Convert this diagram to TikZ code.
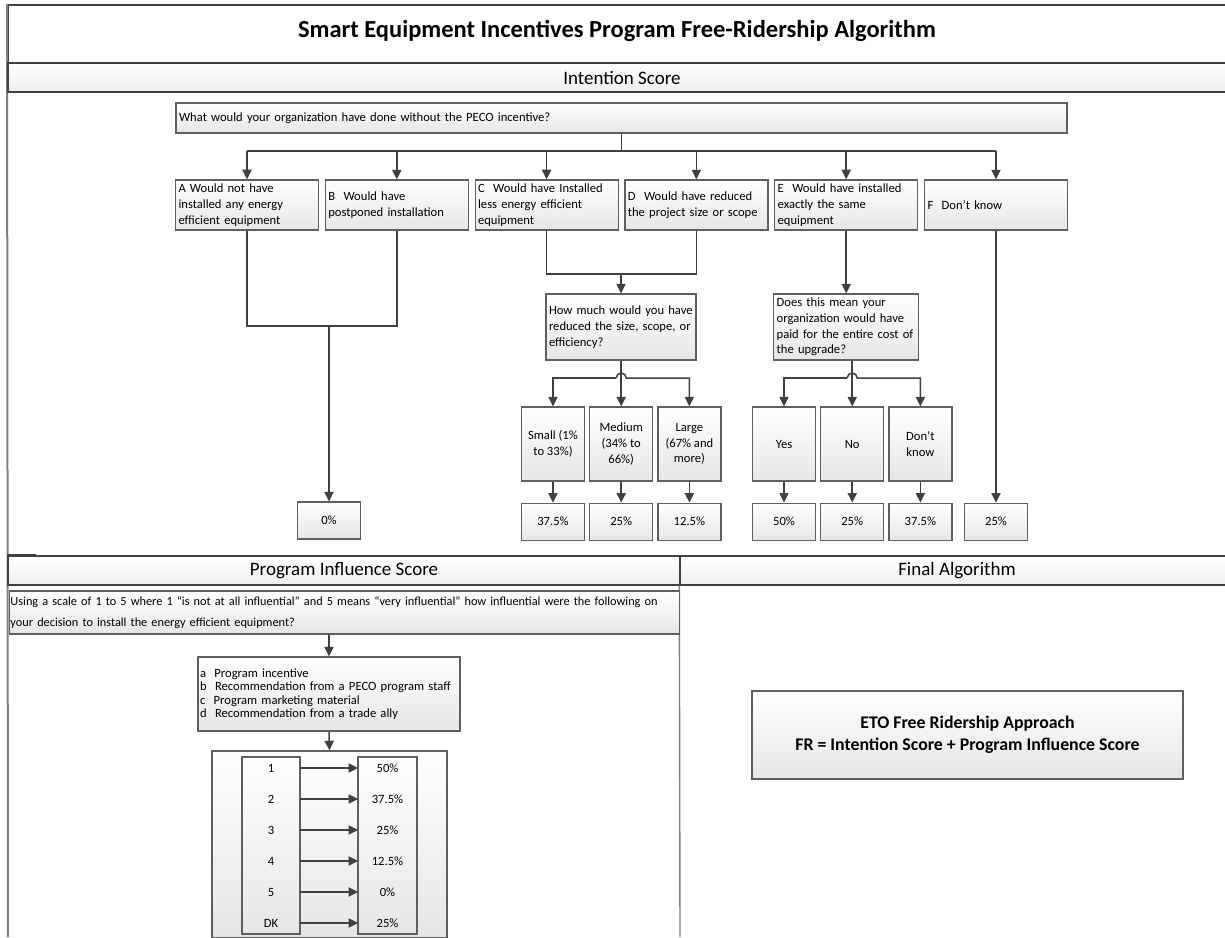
\documentclass[tikz,border=0pt]{standalone}
\usepackage{fontspec}
\setmainfont{Carlito}
\usetikzlibrary{arrows.meta,positioning}
\definecolor{linegray}{HTML}{404040}
\definecolor{edgegray}{HTML}{5F5F5F}
\definecolor{shadegray}{HTML}{E6E6E6}

\begin{document}
\begin{tikzpicture}[
x=0.5pt,y=-0.5pt,
box/.style={draw=edgegray,line width=0.6pt,top color=white,bottom color=shadegray,inner sep=2pt,font=\fontsize{6.3}{7.85}\selectfont},
answer/.style={box,align=left,inner xsep=1.5pt,text width=68.5pt,minimum height=25pt},
question/.style={box,align=left,inner xsep=1.5pt},
pick/.style={box,align=center,minimum width=31.5pt,minimum height=37pt},
pct/.style={box,align=center,minimum width=31.5pt,minimum height=18.5pt},
band/.style={draw=linegray,line width=0.7pt,top color=white,bottom color=shadegray!70,minimum height=14.5pt,inner sep=0pt,font=\fontsize{9.5}{11}\selectfont},
conn/.style={draw=linegray,line width=0.75pt},
arrow/.style={conn,-{Triangle[length=4.8pt,width=4.6pt]}},
row/.style={minimum width=29pt,inner sep=0pt,font=\fontsize{6.3}{7.85}\selectfont}
]
\useasboundingbox (0,0) rectangle (1225,937);
\clip (0,0) rectangle (1225,937);

\node[draw=linegray,line width=1pt,fill=white,minimum width=612pt,minimum height=29pt,inner sep=0pt] (head) at (620,34) {};
\node[anchor=base,font=\bfseries\fontsize{12.25}{14}\selectfont] (title) at (617,37.5) {Smart Equipment Incentives Program Free-Ridership Algorithm};
\draw[draw=gray,line width=1pt] (head.north west) -- (8,937);
\node[band,minimum width=614pt] (intent) at (622,77.5) {Intention Score};

\node[question,text width=442.5pt,minimum height=15pt] (what) at (621.5,118) {What would your organization have done without the PECO incentive?};

\node[answer] (optA) at (247,205) {A Would not have\\installed any energy\\efficient equipment};
\node[answer,right=2.8pt of optA] (optB) {B~~Would have\\postponed installation};
\node[answer,right=2.8pt of optB] (optC) {C~~Would have Installed\\less energy efficient\\equipment};
\node[answer,right=2.8pt of optC] (optD) {D~~Would have reduced\\the project size or scope};
\node[answer,right=2.8pt of optD] (optE) {E~~Would have installed\\exactly the same\\equipment};
\node[answer,right=2.8pt of optE] (optF) {F~~Don’t know};

\coordinate (branch) at (what.south |- 0,151);
\draw[conn] (what.south) -- (branch);
\draw[conn] (branch -| optA.north) -- (branch -| optF.north);
\foreach \n in {optA,optB,optC,optD,optE,optF}
  \draw[arrow] (branch -| \n.north) -- (\n.north);

\node[pct] (zero) at (329,520.5) {0\%};
\coordinate (joinAB) at (329,326);
\draw[conn] (optA.south) |- (joinAB) -| (optB.south);
\draw[arrow] (joinAB) -- (zero.north);

\node[question,text width=72pt,minimum height=33pt] (howmuch) at (621,327) {How much would you have\\reduced the size, scope, or\\efficiency?};
\coordinate (joinCD) at (howmuch.north |- 0,274);
\draw[conn] (optC.south) |- (joinCD) -| (optD.south);
\draw[arrow] (joinCD) -- (howmuch.north);

\node[pick] (small) at (553,444) {Small (1\%\\to 33\%)};
\node[pick,right=2pt of small] (medium) {Medium\\(34\% to\\66\%)};
\node[pick,right=2pt of medium] (large) {Large\\(67\% and\\more)};
\node[pct,below=10.5pt of small] (smallpct) {37.5\%};
\node[pct,below=10.5pt of medium] (mediumpct) {25\%};
\node[pct,below=10.5pt of large] (largepct) {12.5\%};

\coordinate (hopsize) at (medium.north |- 0,378);
\draw[arrow] (howmuch.south -| medium.north) -- (medium.north);
\draw[arrow] ([xshift=-2.5pt]hopsize) -| (small.north);
\draw[arrow] ([xshift=-2.5pt]hopsize) arc[start angle=180,end angle=0,radius=2.5pt] -| (large.north);
\draw[arrow] (small) -- (smallpct);
\draw[arrow] (medium) -- (mediumpct);
\draw[arrow] (large) -- (largepct);

\node[question,text width=69.5pt,minimum height=33pt,inner ysep=1pt] (paid) at (optE |- 0,327) {Does this mean your\\organization would have\\paid for the entire cost of\\the upgrade?};
\draw[arrow] (optE.south) -- (paid.north);

\node[pick] (yes) at (784,444) {Yes};
\node[pick,right=2pt of yes] (no) {No};
\node[pick,right=2pt of no] (dk) {Don’t\\know};
\node[pct,below=10.5pt of yes] (yespct) {50\%};
\node[pct,below=10.5pt of no] (nopct) {25\%};
\node[pct,below=10.5pt of dk] (dkpct) {37.5\%};

\coordinate (hoppaid) at (no.north |- 0,378);
\draw[arrow] (paid.south -| no.north) -- (no.north);
\draw[arrow] ([xshift=-2.5pt]hoppaid) -| (yes.north);
\draw[arrow] ([xshift=-2.5pt]hoppaid) arc[start angle=180,end angle=0,radius=2.5pt] -| (dk.north);
\draw[arrow] (yes) -- (yespct);
\draw[arrow] (no) -- (nopct);
\draw[arrow] (dk) -- (dkpct);

\node[pct] (fpct) at (optF |- smallpct) {25\%};
\draw[arrow] (optF.south) -- (fpct.north);

\node[band,minimum width=336pt] (infl) at (344,570.5) {Program Influence Score};
\node[band,minimum width=277pt] (final) at (957,570.5) {Final Algorithm};
\draw[draw=gray,line width=0.7pt] (final.south west) -- (680,937);
\draw[draw=linegray,line width=1.2pt] (infl.north west) -- ++(29,0);

\node[question,text width=334pt,inner xsep=0.5pt,minimum height=21.5pt,font=\fontsize{6.15}{10.5}\selectfont] (scaleq) at (344.5,612.5) {Using a scale of 1 to 5 where 1 “is not at all influential” and 5 means “very influential” how influential were the following on\\your decision to install the energy efficient equipment?};

\node[question,text width=129pt,inner xsep=1pt,minimum height=37pt,font=\fontsize{6.3}{6.7}\selectfont] (factors) at (329,694) {a~~Program incentive\\b~~Recommendation from a PECO program staff\\c~~Program marketing material\\d~~Recommendation from a trade ally};
\draw[arrow] (factors.north |- scaleq.south) -- (factors.north);

\node[box,minimum width=117.5pt,minimum height=93.5pt] (scalebox) at (329.5,844.5) {};
\draw[arrow] (factors.south) -- (scalebox.north);
\node[box,minimum width=29pt,minimum height=88.5pt] (rating) at (271,845.5) {};
\node[box,minimum width=29.5pt,minimum height=88.5pt] (share) at (387.5,845.5) {};
\foreach \lab/\val [count=\i] in {1/50,2/37.5,3/25,4/12.5,5/0,DK/25} {
  \node[row] (r\i) at (271,737+31*\i) {\lab};
  \node[row] (s\i) at (387.5,737+31*\i) {\val\%};
  \draw[arrow] (r\i) -- (s\i);
}

\node[box,minimum width=215.5pt,minimum height=44pt,align=center,font=\bfseries\fontsize{8.9}{10.85}\selectfont] (approach) at (967.5,735) {ETO Free Ridership Approach\\FR = Intention Score + Program Influence Score};

\end{tikzpicture}
\end{document}
